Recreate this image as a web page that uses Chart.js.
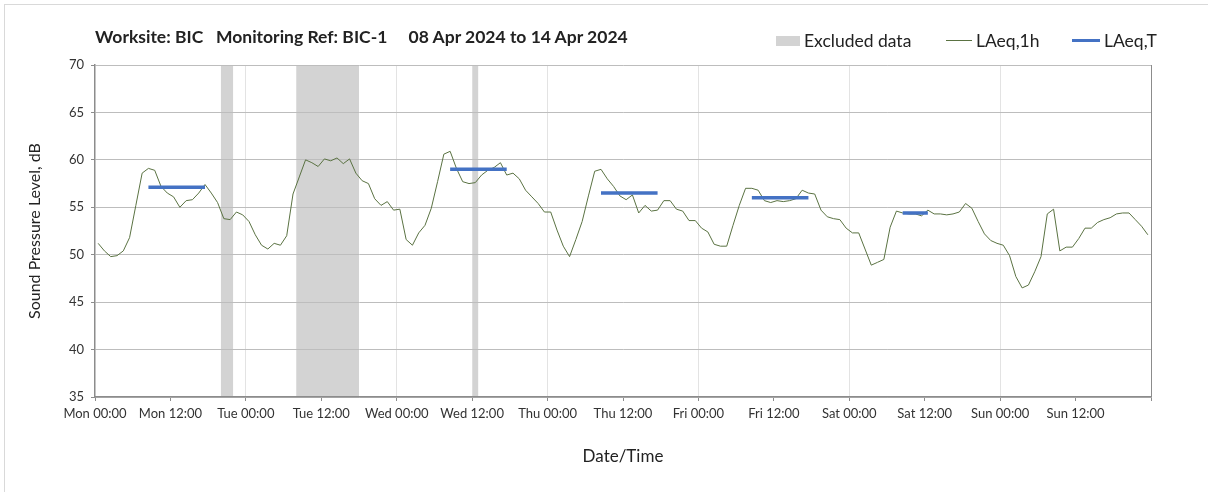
<!DOCTYPE html>
<html lang="en">
<head>
    <meta charset="UTF-8">
    <title>BIC-1 noise monitoring</title>
    <script src="https://cdn.jsdelivr.net/npm/chart.js"></script>
    <style>
        body { margin: 0; background: #fff; overflow: hidden; font-family: Lato, "Open Sans", sans-serif; color: #222; }
        #wrap { position: relative; width: 1208px; height: 492px; }
        #frame { position: absolute; left: 4px; top: 4px; width: 1240px; height: 520px; border: 1px solid #d9d9d9; }
        #heading { position: absolute; left: 95px; top: 26px; font-weight: bold; font-size: 17.5px; white-space: pre; }
        #legend .item { position: absolute; top: 30px; font-size: 17.5px; white-space: nowrap; display: flex; align-items: center; }
        #legend .mark { display: inline-block; margin-right: 4px; }
        canvas { position: absolute; left: 0; top: 0; }
    </style>
</head>
<body>
<div id="wrap">
    <div id="frame"></div>
    <canvas id="noiseChart" width="1208" height="492"></canvas>
    <div id="heading">Worksite: BIC   Monitoring Ref: BIC-1     08 Apr 2024 to 14 Apr 2024</div>
    <div id="legend"></div>
</div>
<script>
    // hourly LAeq,1h values, one array per day (index = hour of day)
    const monLevels = [51.2, 50.4, 49.8, 49.9, 50.4, 51.8, 55.2, 58.6, 59.1, 58.9, 57.2, 56.5,
                       56.1, 55.0, 55.7, 55.8, 56.5, 57.4, 56.5, 55.5, 53.8, 53.7, 54.5, 54.2];
    const tueLevels = [53.5, 52.1, 51.0, 50.6, 51.2, 51.0, 52.0, 56.4, 58.2, 60.0, 59.7, 59.3,
                       60.1, 59.9, 60.2, 59.6, 60.1, 58.6, 57.8, 57.5, 55.9, 55.2, 55.6, 54.7];
    const wedLevels = [54.8, 51.6, 51.0, 52.3, 53.1, 54.9, 57.7, 60.6, 60.9, 59.1, 57.7, 57.5,
                       57.6, 58.4, 58.9, 59.2, 59.7, 58.4, 58.6, 58.0, 56.8, 56.1, 55.4, 54.5];
    const thuLevels = [54.5, 52.6, 50.9, 49.8, 51.6, 53.5, 56.2, 58.8, 59.0, 58.0, 57.2, 56.2,
                       55.8, 56.3, 54.4, 55.2, 54.6, 54.7, 55.7, 55.7, 54.8, 54.6, 53.6, 53.6];
    const friLevels = [52.8, 52.4, 51.1, 50.9, 50.9, 53.1, 55.2, 57.0, 57.0, 56.8, 55.7, 55.5,
                       55.7, 55.6, 55.7, 55.9, 56.8, 56.5, 56.4, 54.7, 54.0, 53.8, 53.7, 52.8];
    const satLevels = [52.3, 52.3, 50.6, 48.9, 49.2, 49.5, 52.9, 54.6, 54.4, 54.3, 54.3, 54.1,
                       54.7, 54.3, 54.3, 54.2, 54.3, 54.5, 55.4, 54.9, 53.5, 52.2, 51.5, 51.2];
    const sunLevels = [51.0, 49.9, 47.7, 46.5, 46.8, 48.2, 49.8, 54.3, 54.8, 50.4, 50.8, 50.8,
                       51.7, 52.8, 52.8, 53.4, 53.7, 53.9, 54.3, 54.4, 54.4, 53.7, 53.0, 52.1];

    // LAeq,T daytime periods (hours from Mon 00:00)
    const periodStart = [8, 56, 80, 104, 128];
    const periodEnd = [17, 65, 89, 113, 132];
    const periodLevel = [57.1, 59.0, 56.5, 56.0, 54.4];

    // excluded data windows (hours from Mon 00:00)
    const excludedStart = [20, 32, 60];
    const excludedEnd = [22, 42, 61];

    const tickLabels = ['Mon 00:00', 'Mon 12:00', 'Tue 00:00', 'Tue 12:00', 'Wed 00:00', 'Wed 12:00',
                        'Thu 00:00', 'Thu 12:00', 'Fri 00:00', 'Fri 12:00', 'Sat 00:00', 'Sat 12:00',
                        'Sun 00:00', 'Sun 12:00'];

    const hourly = [].concat(monLevels, tueLevels, wedLevels, thuLevels, friLevels, satLevels, sunLevels);
    // each hourly value sits in the middle of its hour
    const hourlyPoints = hourly.map((v, i) => ({ x: i + 0.5, y: v }));

    const periodPoints = [];
    periodStart.forEach((s, i) => {
        periodPoints.push({ x: s + 0.5, y: periodLevel[i] });
        periodPoints.push({ x: periodEnd[i] + 0.5, y: periodLevel[i] });
        periodPoints.push({ x: periodEnd[i] + 0.5, y: null });
    });

    const excludedPoints = [];
    excludedStart.forEach((s, i) => {
        excludedPoints.push({ x: s, y: 70 });
        excludedPoints.push({ x: excludedEnd[i], y: 70 });
        excludedPoints.push({ x: excludedEnd[i], y: null });
    });

    const tickFont = { family: 'Lato', size: 13 };

    const chart = new Chart(document.getElementById('noiseChart').getContext('2d'), {
        type: 'line',
        data: {
            datasets: [{
                label: 'Excluded data',
                data: excludedPoints,
                backgroundColor: '#d3d3d3',
                borderWidth: 0,
                pointRadius: 0,
                fill: 'start',
                order: 2
            }, {
                label: 'LAeq,1h',
                data: hourlyPoints,
                borderColor: '#5a7242',
                borderWidth: 1,
                pointRadius: 0,
                fill: false,
                order: 1
            }, {
                label: 'LAeq,T',
                data: periodPoints,
                borderColor: '#4472c4',
                borderWidth: 3.5,
                pointRadius: 0,
                fill: false,
                order: 0
            }]
        },
        options: {
            responsive: false,
            animation: false,
            layout: { padding: { top: 65, right: 57, bottom: 0, left: 0 } },
            plugins: {
                legend: { display: false },
                tooltip: { enabled: false },
                filler: { drawTime: 'beforeDraw' }
            },
            scales: {
                x: {
                    type: 'linear',
                    min: 0,
                    max: 168,
                    afterFit: s => { s.height = 95; },
                    ticks: {
                        stepSize: 12,
                        autoSkip: false,
                        maxRotation: 0,
                        padding: 5,
                        color: '#333',
                        font: tickFont,
                        callback: v => (v < 168 ? tickLabels[v / 12] : '')
                    },
                    grid: {
                        color: c => {
                            if (!c.tick) return 'rgba(0,0,0,0)';
                            if (c.tick.value === 168) return '#8c8c8c';
                            if (c.tick.value > 0 && c.tick.value % 24 === 0) return '#e3e3e3';
                            return 'rgba(0,0,0,0)';
                        },
                        tickColor: '#8c8c8c',
                        tickLength: 4
                    },
                    border: { color: '#8c8c8c', width: 1.5 },
                    title: {
                        display: true,
                        text: 'Date/Time',
                        color: '#222',
                        font: { family: 'Lato', size: 17 },
                        padding: { top: 0, bottom: 25 }
                    }
                },
                y: {
                    min: 35,
                    max: 70,
                    afterFit: s => { s.width = 95; },
                    ticks: { stepSize: 5, padding: 7, color: '#333', font: tickFont },
                    grid: { color: '#bdbdbd', tickColor: '#8c8c8c', tickLength: 4 },
                    border: { color: '#8c8c8c', width: 1.5 },
                    title: {
                        display: true,
                        text: 'Sound Pressure Level, dB',
                        color: '#222',
                        font: { family: 'Lato', size: 16 },
                        padding: { top: 25, bottom: 0 }
                    }
                }
            }
        }
    });

    // legend built from the chart's own datasets
    const legendX = [776, 946, 1072];
    const legendBox = document.getElementById('legend');
    chart.data.datasets.forEach((ds, i) => {
        const item = document.createElement('div');
        item.className = 'item';
        item.style.left = legendX[i] + 'px';
        const mark = document.createElement('span');
        mark.className = 'mark';
        if (ds.fill) {
            mark.style.width = '24px';
            mark.style.height = '10px';
            mark.style.background = ds.backgroundColor;
        } else {
            mark.style.width = (i === 1 ? 26 : 28) + 'px';
            mark.style.height = ds.borderWidth + 'px';
            mark.style.background = ds.borderColor;
        }
        item.appendChild(mark);
        item.appendChild(document.createTextNode(ds.label));
        legendBox.appendChild(item);
    });
</script>
</body>
</html>
